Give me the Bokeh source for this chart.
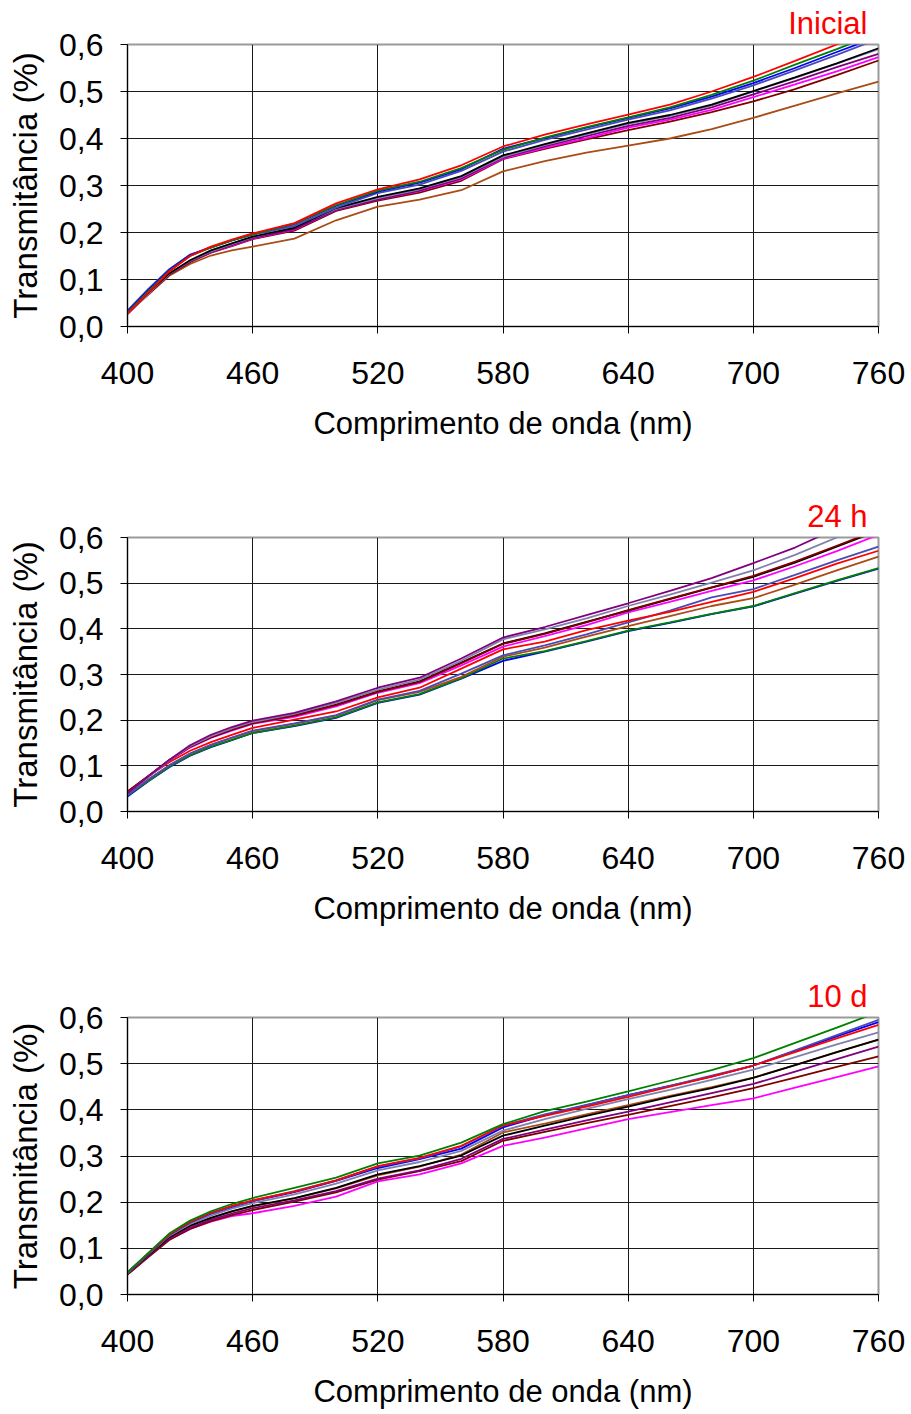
from bokeh.plotting import figure
from bokeh.layouts import column
from bokeh.models import Range1d, FixedTicker, CustomJSTickFormatter
from bokeh.embed import file_html
from bokeh.resources import INLINE

# ---------------- data ----------------
wavelength = [400, 410, 420, 430, 440, 450, 460, 480, 500, 520, 540, 560,
              580, 600, 620, 640, 660, 680, 700, 720, 740, 760]
x_ticks = [400, 460, 520, 580, 640, 700, 760]
y_ticks = [0.0, 0.1, 0.2, 0.3, 0.4, 0.5, 0.6]
panel_titles = ["Inicial", "24 h", "10 d"]

# Panel 1 : Inicial
ini_red     = [0.028, 0.072, 0.117, 0.150, 0.170, 0.185, 0.198, 0.220, 0.262, 0.292, 0.313, 0.343, 0.383, 0.408, 0.430, 0.451, 0.472, 0.500, 0.531, 0.565, 0.600, 0.635]
ini_green   = [0.030, 0.075, 0.118, 0.150, 0.168, 0.183, 0.196, 0.219, 0.258, 0.289, 0.308, 0.337, 0.376, 0.402, 0.424, 0.445, 0.466, 0.493, 0.523, 0.557, 0.590, 0.625]
ini_blue    = [0.032, 0.078, 0.120, 0.152, 0.169, 0.183, 0.197, 0.218, 0.257, 0.287, 0.306, 0.335, 0.378, 0.401, 0.423, 0.444, 0.464, 0.489, 0.518, 0.550, 0.584, 0.617]
ini_slate   = [0.034, 0.080, 0.122, 0.153, 0.168, 0.183, 0.195, 0.214, 0.253, 0.284, 0.302, 0.331, 0.372, 0.397, 0.419, 0.440, 0.460, 0.485, 0.513, 0.545, 0.578, 0.612]
ini_black   = [0.029, 0.072, 0.113, 0.141, 0.162, 0.177, 0.191, 0.210, 0.252, 0.276, 0.294, 0.320, 0.364, 0.388, 0.411, 0.433, 0.450, 0.472, 0.501, 0.530, 0.560, 0.592]
ini_gray    = [0.026, 0.070, 0.112, 0.140, 0.160, 0.175, 0.190, 0.212, 0.250, 0.273, 0.292, 0.318, 0.361, 0.386, 0.409, 0.431, 0.448, 0.470, 0.500, 0.529, 0.559, 0.590]
ini_purple  = [0.027, 0.070, 0.111, 0.139, 0.158, 0.173, 0.188, 0.207, 0.248, 0.270, 0.289, 0.315, 0.359, 0.383, 0.405, 0.427, 0.444, 0.466, 0.494, 0.522, 0.552, 0.580]
ini_magenta = [0.028, 0.071, 0.112, 0.139, 0.158, 0.172, 0.187, 0.206, 0.248, 0.270, 0.288, 0.313, 0.357, 0.380, 0.401, 0.423, 0.440, 0.461, 0.488, 0.515, 0.543, 0.573]
ini_darkred = [0.027, 0.069, 0.110, 0.137, 0.157, 0.171, 0.186, 0.204, 0.246, 0.268, 0.285, 0.310, 0.356, 0.378, 0.398, 0.418, 0.436, 0.456, 0.479, 0.505, 0.535, 0.566]
ini_brown   = [0.028, 0.068, 0.108, 0.133, 0.151, 0.162, 0.170, 0.187, 0.226, 0.255, 0.270, 0.290, 0.330, 0.352, 0.370, 0.385, 0.400, 0.420, 0.444, 0.470, 0.496, 0.521]

# Panel 2 : 24 h
h24_purple  = [0.040, 0.077, 0.113, 0.145, 0.168, 0.185, 0.199, 0.216, 0.241, 0.271, 0.293, 0.335, 0.381, 0.404, 0.430, 0.456, 0.483, 0.511, 0.544, 0.578, 0.620, 0.660]
h24_gray    = [0.040, 0.076, 0.112, 0.143, 0.165, 0.182, 0.196, 0.214, 0.238, 0.267, 0.289, 0.330, 0.377, 0.399, 0.423, 0.450, 0.475, 0.501, 0.528, 0.562, 0.600, 0.635]
h24_black   = [0.042, 0.077, 0.112, 0.142, 0.163, 0.179, 0.194, 0.211, 0.234, 0.263, 0.285, 0.326, 0.368, 0.390, 0.415, 0.440, 0.465, 0.490, 0.514, 0.545, 0.580, 0.615]
h24_darkred = [0.044, 0.078, 0.113, 0.142, 0.163, 0.179, 0.193, 0.210, 0.233, 0.262, 0.284, 0.325, 0.367, 0.389, 0.414, 0.441, 0.466, 0.491, 0.516, 0.547, 0.582, 0.617]
h24_magenta = [0.041, 0.076, 0.111, 0.140, 0.161, 0.177, 0.192, 0.207, 0.230, 0.260, 0.281, 0.320, 0.361, 0.384, 0.408, 0.436, 0.459, 0.483, 0.506, 0.537, 0.570, 0.606]
h24_red     = [0.044, 0.077, 0.108, 0.133, 0.152, 0.168, 0.183, 0.201, 0.219, 0.250, 0.271, 0.313, 0.355, 0.372, 0.397, 0.418, 0.437, 0.459, 0.481, 0.511, 0.543, 0.571]
h24_slate   = [0.036, 0.070, 0.101, 0.127, 0.146, 0.162, 0.177, 0.193, 0.211, 0.245, 0.264, 0.302, 0.342, 0.364, 0.388, 0.414, 0.440, 0.469, 0.487, 0.518, 0.550, 0.580]
h24_brown   = [0.038, 0.070, 0.101, 0.127, 0.146, 0.161, 0.176, 0.192, 0.210, 0.244, 0.262, 0.295, 0.339, 0.359, 0.383, 0.406, 0.428, 0.450, 0.467, 0.497, 0.528, 0.558]
h24_green   = [0.035, 0.067, 0.098, 0.123, 0.142, 0.157, 0.172, 0.188, 0.206, 0.239, 0.257, 0.292, 0.335, 0.351, 0.373, 0.396, 0.414, 0.433, 0.450, 0.478, 0.506, 0.533]
h24_blue    = [0.033, 0.066, 0.097, 0.122, 0.141, 0.156, 0.172, 0.187, 0.205, 0.238, 0.256, 0.291, 0.330, 0.350, 0.372, 0.395, 0.413, 0.432, 0.449, 0.477, 0.505, 0.532]

# Panel 3 : 10 d
d10_green   = [0.048, 0.090, 0.132, 0.160, 0.180, 0.196, 0.209, 0.231, 0.253, 0.284, 0.301, 0.329, 0.369, 0.397, 0.418, 0.440, 0.463, 0.486, 0.512, 0.545, 0.578, 0.612]
d10_slate   = [0.047, 0.089, 0.130, 0.157, 0.176, 0.191, 0.203, 0.224, 0.247, 0.277, 0.295, 0.321, 0.366, 0.390, 0.411, 0.432, 0.452, 0.474, 0.496, 0.529, 0.562, 0.595]
d10_blue    = [0.047, 0.088, 0.129, 0.156, 0.175, 0.190, 0.202, 0.222, 0.246, 0.274, 0.293, 0.316, 0.362, 0.388, 0.410, 0.432, 0.452, 0.472, 0.496, 0.527, 0.559, 0.590]
d10_red     = [0.048, 0.089, 0.130, 0.157, 0.177, 0.192, 0.204, 0.223, 0.247, 0.278, 0.296, 0.322, 0.366, 0.387, 0.407, 0.428, 0.450, 0.472, 0.496, 0.525, 0.555, 0.584]
d10_gray    = [0.046, 0.087, 0.127, 0.153, 0.171, 0.186, 0.198, 0.217, 0.240, 0.269, 0.287, 0.311, 0.355, 0.380, 0.402, 0.423, 0.443, 0.465, 0.487, 0.514, 0.542, 0.568]
d10_black   = [0.045, 0.085, 0.124, 0.149, 0.166, 0.180, 0.192, 0.209, 0.231, 0.260, 0.278, 0.301, 0.344, 0.366, 0.387, 0.407, 0.428, 0.447, 0.469, 0.497, 0.525, 0.552]
d10_brown   = [0.045, 0.085, 0.124, 0.149, 0.166, 0.180, 0.191, 0.208, 0.230, 0.258, 0.277, 0.303, 0.351, 0.370, 0.390, 0.410, 0.430, 0.449, 0.470, 0.497, 0.525, 0.552]
d10_purple  = [0.044, 0.083, 0.121, 0.145, 0.162, 0.175, 0.187, 0.204, 0.224, 0.251, 0.269, 0.294, 0.337, 0.357, 0.377, 0.396, 0.416, 0.436, 0.456, 0.483, 0.510, 0.537]
d10_darkred = [0.043, 0.081, 0.118, 0.142, 0.159, 0.172, 0.183, 0.201, 0.221, 0.249, 0.267, 0.289, 0.333, 0.352, 0.371, 0.389, 0.408, 0.427, 0.447, 0.470, 0.493, 0.516]
d10_magenta = [0.044, 0.082, 0.119, 0.142, 0.158, 0.170, 0.176, 0.192, 0.212, 0.245, 0.260, 0.284, 0.322, 0.340, 0.360, 0.380, 0.395, 0.410, 0.425, 0.448, 0.471, 0.494]

# ---------------- styling ----------------
COL = {
    "red": "#FF0000", "green": "#008000", "blue": "#0000FF", "slate": "#4B4BB8",
    "black": "#000000", "gray": "#8080AC", "purple": "#800080", "magenta": "#FF00FF",
    "darkred": "#800000", "brown": "#A94C16",
}
FONT = "Liberation Sans"

panel1 = [("brown", ini_brown), ("darkred", ini_darkred), ("magenta", ini_magenta),
          ("purple", ini_purple), ("gray", ini_gray), ("black", ini_black),
          ("slate", ini_slate), ("blue", ini_blue), ("green", ini_green), ("red", ini_red)]
panel2 = [("blue", h24_blue), ("green", h24_green), ("brown", h24_brown), ("slate", h24_slate),
          ("red", h24_red), ("magenta", h24_magenta), ("black", h24_black),
          ("darkred", h24_darkred), ("gray", h24_gray), ("purple", h24_purple)]
panel3 = [("magenta", d10_magenta), ("darkred", d10_darkred), ("purple", d10_purple),
          ("brown", d10_brown), ("black", d10_black), ("gray", d10_gray),
          ("blue", d10_blue), ("slate", d10_slate), ("red", d10_red), ("green", d10_green)]

# (height, top, bottom)
geoms = [(475, 44, 149), (485, 62, 149), (454, 57, 120)]
LEFT, RIGHT = 127, 33

fmt = CustomJSTickFormatter(code="return tick.toFixed(1).replace('.', ',');")

figs = []
for (h, top, bottom), series, title in zip(geoms, [panel1, panel2, panel3], panel_titles):
    p = figure(width=911, height=h, x_range=Range1d(400, 760), y_range=Range1d(0, 0.6),
               output_backend="svg", toolbar_location=None,
               min_border_top=top, min_border_left=LEFT, min_border_right=RIGHT,
               min_border_bottom=bottom)
    p.background_fill_color = "white"
    p.border_fill_color = "white"
    p.outline_line_color = "#9A9A9A"
    p.outline_line_width = 2

    for name, vals in series:
        p.line(wavelength, vals, line_color=COL[name], line_width=1.8)

    p.xaxis.ticker = FixedTicker(ticks=x_ticks)
    p.yaxis.ticker = FixedTicker(ticks=y_ticks)
    p.yaxis.formatter = fmt
    for ax in (p.xaxis[0], p.yaxis[0]):
        ax.major_tick_out = 7
        ax.major_tick_in = 0
        ax.minor_tick_line_color = None
        ax.major_tick_line_color = "black"
        ax.axis_line_color = "black"
        ax.major_label_text_font = FONT
        ax.major_label_text_font_size = "32px"
        ax.major_label_text_color = "black"
        ax.axis_label_text_font = FONT
        ax.axis_label_text_font_style = "normal"
        ax.axis_label_text_color = "black"
    p.xaxis.axis_label_text_font_size = "31px"
    p.yaxis.axis_label_text_font_size = "33px"
    p.xaxis.major_label_standoff = 28
    p.yaxis.major_label_standoff = 17
    p.xaxis.axis_label = "Comprimento de onda (nm)"
    p.yaxis.axis_label = "Transmitância (%)"
    p.xaxis.axis_label_standoff = 19
    p.yaxis.axis_label_standoff = 12

    p.xgrid.ticker = FixedTicker(ticks=x_ticks)
    p.ygrid.ticker = FixedTicker(ticks=y_ticks)
    p.grid.grid_line_color = "#1A1A1A"
    p.grid.grid_line_width = 1

    p.title.text = title
    p.title.align = "right"
    p.title.offset = 11
    p.title.standoff = 7
    p.title.text_color = "#FF0000"
    p.title.text_font = FONT
    p.title.text_font_size = "31px"
    p.title.text_font_style = "normal"
    figs.append(p)

layout = column(*figs, spacing=0)
open("out.html", "w").write(file_html(layout, INLINE))
